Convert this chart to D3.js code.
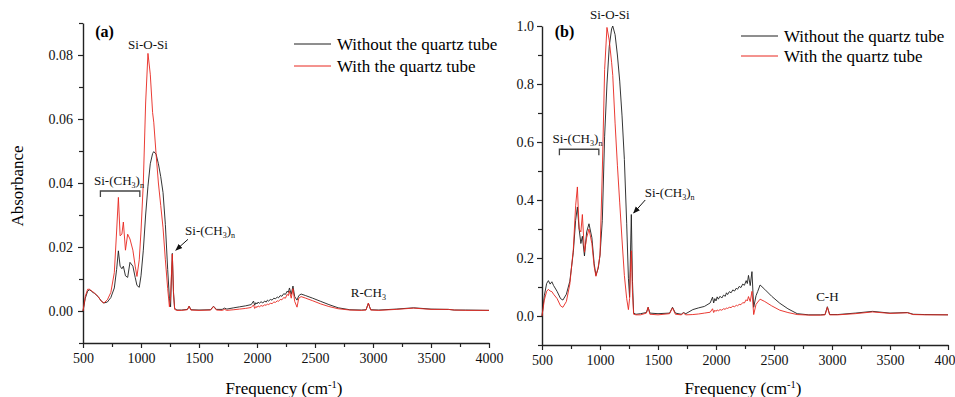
<!DOCTYPE html>
<html>
<head>
<meta charset="utf-8">
<script src="https://cdn.jsdelivr.net/npm/d3@7"></script>
<style>
  body { margin: 0; background: #fff; }
  svg { display: block; font-family: "Liberation Serif", "Times New Roman", serif; }
  .axis path, .axis line { stroke: #222; }
  .axis path { stroke-width: 1.4; }
  .axis text { font-size: 14px; fill: #111; font-family: "Liberation Serif", serif; }
</style>
</head>
<body>
<div id="chart"></div>
<script>
// Data (cm-1 vs absorbance)
const freq = [500, 520, 540, 555, 570, 585, 600, 630, 660, 680,
  710, 740, 770, 790, 805, 820, 835, 848, 866, 885,
  905, 930, 950, 965, 985, 1000, 1020, 1040, 1060, 1080,
  1100, 1110, 1130, 1150, 1170, 1190, 1210, 1230, 1245, 1255,
  1262, 1270, 1280, 1290, 1310, 1350, 1400, 1415, 1430, 1500,
  1600, 1625, 1650, 1700, 1720, 1740, 1800, 1850, 1900, 1950,
  1970, 1980, 1990, 2000, 2010, 2020, 2035, 2050, 2065, 2080,
  2090, 2100, 2115, 2130, 2145, 2160, 2175, 2185, 2200, 2215,
  2230, 2245, 2260, 2270, 2280, 2295, 2310, 2325, 2345, 2360,
  2380, 2420, 2480, 2550, 2620, 2700, 2800, 2900, 2940, 2960,
  2980, 3050, 3200, 3350, 3500, 3650, 3700, 3800, 4000];

// panel (a)
const aWithout = [0, .0040, .0062, .0066, .0063, .0058, .0055, .0045, .0030, .0025,
  .0028, .0042, .0072, .0130, .0188, .0140, .0132, .0140, .0110, .0105,
  .0152, .0140, .0105, .0080, .0074, .0110, .0190, .0300, .0390, .0460,
  .0492, .0498, .0490, .0460, .0420, .0370, .0270, .0130, .0040, .0013,
  .0100, .0180, .0060, .0008, .0003, .0003, .0005, .0015, .0004, .0003,
  .0004, .0015, .0005, .0005, .0009, .0006, .0010, .0013, .0016, .0020,
  .0031, .0018, .0026, .0022, .0028, .0024, .0029, .0025, .0031, .0028,
  .0034, .0031, .0036, .0034, .0040, .0038, .0044, .0041, .0048, .0046,
  .0054, .0052, .0062, .0058, .0072, .0052, .0078, .0045, .0034, .0048,
  .0053, .0048, .0040, .0030, .0020, .0010, .0004, .0003, .0004, .0024,
  .0004, .0003, .0006, .0010, .0006, .0005, .0003, .0003, .0002];
const aWith = [0, .0046, .0068, .0068, .0064, .0060, .0056, .0045, .0030, .0025,
  .0035, .0058, .0120, .0250, .0355, .0235, .0240, .0278, .0190, .0240,
  .0225, .0190, .0140, .0108, .0160, .0250, .0400, .0650, .0805, .0740,
  .0620, .0590, .0490, .0400, .0330, .0260, .0160, .0070, .0013, .0045,
  .0110, .0178, .0055, .0005, .0002, .0002, .0004, .0015, .0003, .0002,
  .0003, .0014, .0003, .0002, .0005, .0002, .0004, .0006, .0008, .0011,
  .0019, .0008, .0014, .0011, .0016, .0013, .0017, .0015, .0019, .0018,
  .0022, .0020, .0024, .0023, .0028, .0027, .0032, .0030, .0036, .0035,
  .0042, .0040, .0052, .0048, .0062, .0040, .0070, .0030, .0012, .0040,
  .0045, .0040, .0032, .0022, .0014, .0007, .0003, .0002, .0003, .0025,
  .0003, .0002, .0005, .0009, .0005, .0005, .0003, .0002, .0002];

// panel (b)
const bWithout = [0, .070, .112, .122, .110, .118, .105, .085, .060, .055,
  .075, .120, .220, .330, .376, .300, .250, .275, .207, .290,
  .318, .270, .180, .140, .165, .210, .330, .620, .800, .930,
  .990, 1.000, .970, .900, .810, .690, .540, .320, .130, .065,
  .200, .350, .120, .010, .006, .008, .012, .030, .010, .008,
  .010, .030, .010, .006, .012, .008, .022, .028, .033, .045,
  .065, .045, .060, .052, .066, .058, .068, .062, .072, .068,
  .080, .074, .084, .080, .090, .086, .096, .092, .102, .098,
  .110, .106, .122, .112, .140, .105, .153, .030, .070, .085,
  .107, .092, .068, .044, .025, .008, .004, .004, .005, .032,
  .005, .005, .010, .016, .010, .012, .006, .005, .004];
const bWith = [0, .055, .085, .092, .086, .084, .075, .060, .035, .030,
  .050, .110, .230, .380, .445, .300, .290, .350, .220, .270,
  .300, .250, .170, .137, .170, .210, .500, .850, .995, .950,
  .875, .830, .665, .520, .390, .262, .140, .060, .022, .060,
  .150, .225, .080, .006, .004, .004, .010, .030, .006, .004,
  .008, .028, .006, .004, .010, .004, .005, .007, .010, .013,
  .025, .012, .020, .016, .021, .018, .022, .020, .025, .023,
  .028, .026, .030, .029, .034, .032, .037, .035, .040, .039,
  .046, .045, .056, .052, .067, .050, .085, .005, .040, .048,
  .058, .050, .035, .020, .012, .005, .003, .003, .004, .030,
  .004, .004, .008, .014, .009, .011, .005, .004, .004];

const seriesNames = ['Without the quartz tube', 'With the quartz tube'];
const seriesColors = ['#1e1e1e', '#e8261e'];
const xTicks = [500, 1000, 1500, 2000, 2500, 3000, 3500, 4000];
const aYTicks = [0, 0.02, 0.04, 0.06, 0.08];
const bYTicks = [0, 0.2, 0.4, 0.6, 0.8, 1.0];

const W = 955, H = 397;
const svg = d3.select('#chart').append('svg')
  .attr('width', W).attr('height', H);

// arrow marker
svg.append('defs').append('marker')
  .attr('id', 'arrow')
  .attr('viewBox', '0 0 10 10')
  .attr('refX', 9).attr('refY', 5)
  .attr('markerWidth', 7).attr('markerHeight', 7)
  .attr('orient', 'auto')
  .append('path')
  .attr('d', 'M0,1 L10,5 L0,9 Z')
  .attr('fill', '#111');

function subText(sel, parts) {
  // parts: [text, shift] shift: 0 normal, 1 subscript, -1 superscript
  let cur = 0;
  parts.forEach(([t, s]) => {
    const target = s === 1 ? 3 : s === -1 ? -6 : 0;
    const tsp = sel.append('tspan').text(t).attr('dy', target - cur);
    if (s !== 0) tsp.attr('font-size', '0.62em');
    cur = target;
  });
}

function drawPanel(p) {
  const x = d3.scaleLinear().domain([500, 4000]).range(p.xRange);
  const y = d3.scaleLinear().domain(p.yDomain).range(p.yRange);
  const g = svg.append('g');

  // minor ticks
  const xMinor = d3.range(750, 4000, 500);
  g.append('g').attr('class', 'axis')
    .attr('transform', `translate(0,${p.yRange[0]})`)
    .call(d3.axisBottom(x).tickValues(xMinor).tickSize(4).tickFormat(''))
    .call(s => s.select('.domain').remove());
  g.append('g').attr('class', 'axis')
    .attr('transform', `translate(${p.xRange[0]},0)`)
    .call(d3.axisLeft(y).tickValues(p.yMinor).tickSize(4).tickFormat(''))
    .call(s => s.select('.domain').remove());

  g.append('g').attr('class', 'axis')
    .attr('transform', `translate(0,${p.yRange[0]})`)
    .call(d3.axisBottom(x).tickValues(xTicks).tickSizeInner(5).tickSizeOuter(0).tickPadding(5).tickFormat(d3.format('d')));
  g.append('g').attr('class', 'axis')
    .attr('transform', `translate(${p.xRange[0]},0)`)
    .call(d3.axisLeft(y).tickValues(p.yTicks).tickSizeInner(5).tickSizeOuter(0).tickPadding(p.yPad).tickFormat(d3.format(p.yFmt)));
  g.selectAll('.axis line').attr('stroke-width', 1.2);

  const line = d3.line()
    .x((d, i) => x(freq[i]))
    .y(d => y(d));

  p.series.forEach((vals, k) => {
    g.append('path')
      .datum(vals)
      .attr('d', line)
      .attr('fill', 'none')
      .attr('stroke', seriesColors[k])
      .attr('stroke-width', 0.9)
      .attr('stroke-linejoin', 'round');
  });

  // axis titles
  const xt = g.append('text')
    .attr('x', (p.xRange[0] + p.xRange[1]) / 2 - 2)
    .attr('y', 394)
    .attr('text-anchor', 'middle')
    .attr('font-size', 17);
  subText(xt, [['Frequency (cm', 0], ['-1', -1], [')', 0]]);

  // panel label
  g.append('text')
    .attr('x', x(p.labelAt[0])).attr('y', y(p.labelAt[1]))
    .attr('font-size', 16).attr('font-weight', 'bold')
    .text(p.label);

  // legend
  seriesNames.forEach((name, k) => {
    const ly = p.legend[1] + k * p.legend[2];
    g.append('line')
      .attr('x1', p.legend[0]).attr('x2', p.legend[0] + 37)
      .attr('y1', ly).attr('y2', ly)
      .attr('stroke', seriesColors[k]).attr('stroke-width', 1);
    g.append('text')
      .attr('x', p.legend[0] + 43).attr('y', ly + 6)
      .attr('font-size', 17)
      .text(name);
  });

  // annotations
  const ann = g.append('g').attr('font-size', 13).attr('fill', '#111');
  ann.append('text').attr('x', x(p.siosi[0])).attr('y', y(p.siosi[1]))
    .attr('text-anchor', 'middle').text('Si-O-Si');

  const br = p.bracket;
  const bt = ann.append('text').attr('x', x(br.text[0])).attr('y', y(br.text[1]));
  subText(bt, [['Si-(CH', 0], ['3', 1], [')', 0], ['n', 1]]);
  ann.append('path')
    .attr('d', `M${x(br.x0)},${y(br.y) + 6}V${y(br.y)}H${x(br.x1)}V${y(br.y) + 6}`)
    .attr('fill', 'none').attr('stroke', '#444').attr('stroke-width', 1.3);

  const ar = p.arrow;
  const at = ann.append('text').attr('x', x(ar.text[0])).attr('y', y(ar.text[1]));
  subText(at, [['Si-(CH', 0], ['3', 1], [')', 0], ['n', 1]]);
  ann.append('line')
    .attr('x1', x(ar.from[0])).attr('y1', y(ar.from[1]))
    .attr('x2', x(ar.to[0])).attr('y2', y(ar.to[1]))
    .attr('stroke', '#111').attr('stroke-width', 1)
    .attr('marker-end', 'url(#arrow)');

  ann.append('text').attr('x', x(p.peak.at[0])).attr('y', y(p.peak.at[1]))
    .attr('text-anchor', 'middle');
  const pk = ann.append('text').attr('x', x(p.peak.at[0])).attr('y', y(p.peak.at[1]))
    .attr('text-anchor', 'middle');
  subText(pk, p.peak.parts);
}

// panel (a)
drawPanel({
  xRange: [83, 489], yRange: [343, 23], yDomain: [-0.01, 0.09],
  yTicks: aYTicks, yMinor: [-0.01, 0.01, 0.03, 0.05, 0.07, 0.09], yFmt: '.2f', yPad: 5,
  series: [aWithout, aWith],
  label: '(a)', labelAt: [605, 0.0855],
  legend: [294, 44, 22],
  siosi: [1060, 0.0818],
  bracket: { text: [595, 0.0395], x0: 650, x1: 990, y: 0.0375 },
  arrow: { text: [1380, 0.0237], from: [1405, 0.0224], to: [1300, 0.0190] },
  peak: { at: [2960, 0.0044], parts: [['R-CH', 0], ['3', 1]] }
});

// panel (b)
drawPanel({
  xRange: [542, 948], yRange: [345, 26], yDomain: [-0.1, 1.0],
  yTicks: bYTicks, yMinor: [-0.1, 0.1, 0.3, 0.5, 0.7, 0.9], yFmt: '.1f', yPad: 3,
  series: [bWithout, bWith],
  label: '(b)', labelAt: [610, 0.963],
  legend: [741, 36, 20],
  siosi: [1085, 1.024],
  bracket: { text: [590, 0.595], x0: 650, x1: 990, y: 0.575 },
  arrow: { text: [1385, 0.41], from: [1390, 0.40], to: [1290, 0.355] },
  peak: { at: [2960, 0.052], parts: [['C-H', 0]] }
});

// y title (shared, left)
svg.append('text')
  .attr('transform', 'translate(23,186) rotate(-90)')
  .attr('text-anchor', 'middle')
  .attr('font-size', 17)
  .text('Absorbance');
</script>
</body>
</html>
